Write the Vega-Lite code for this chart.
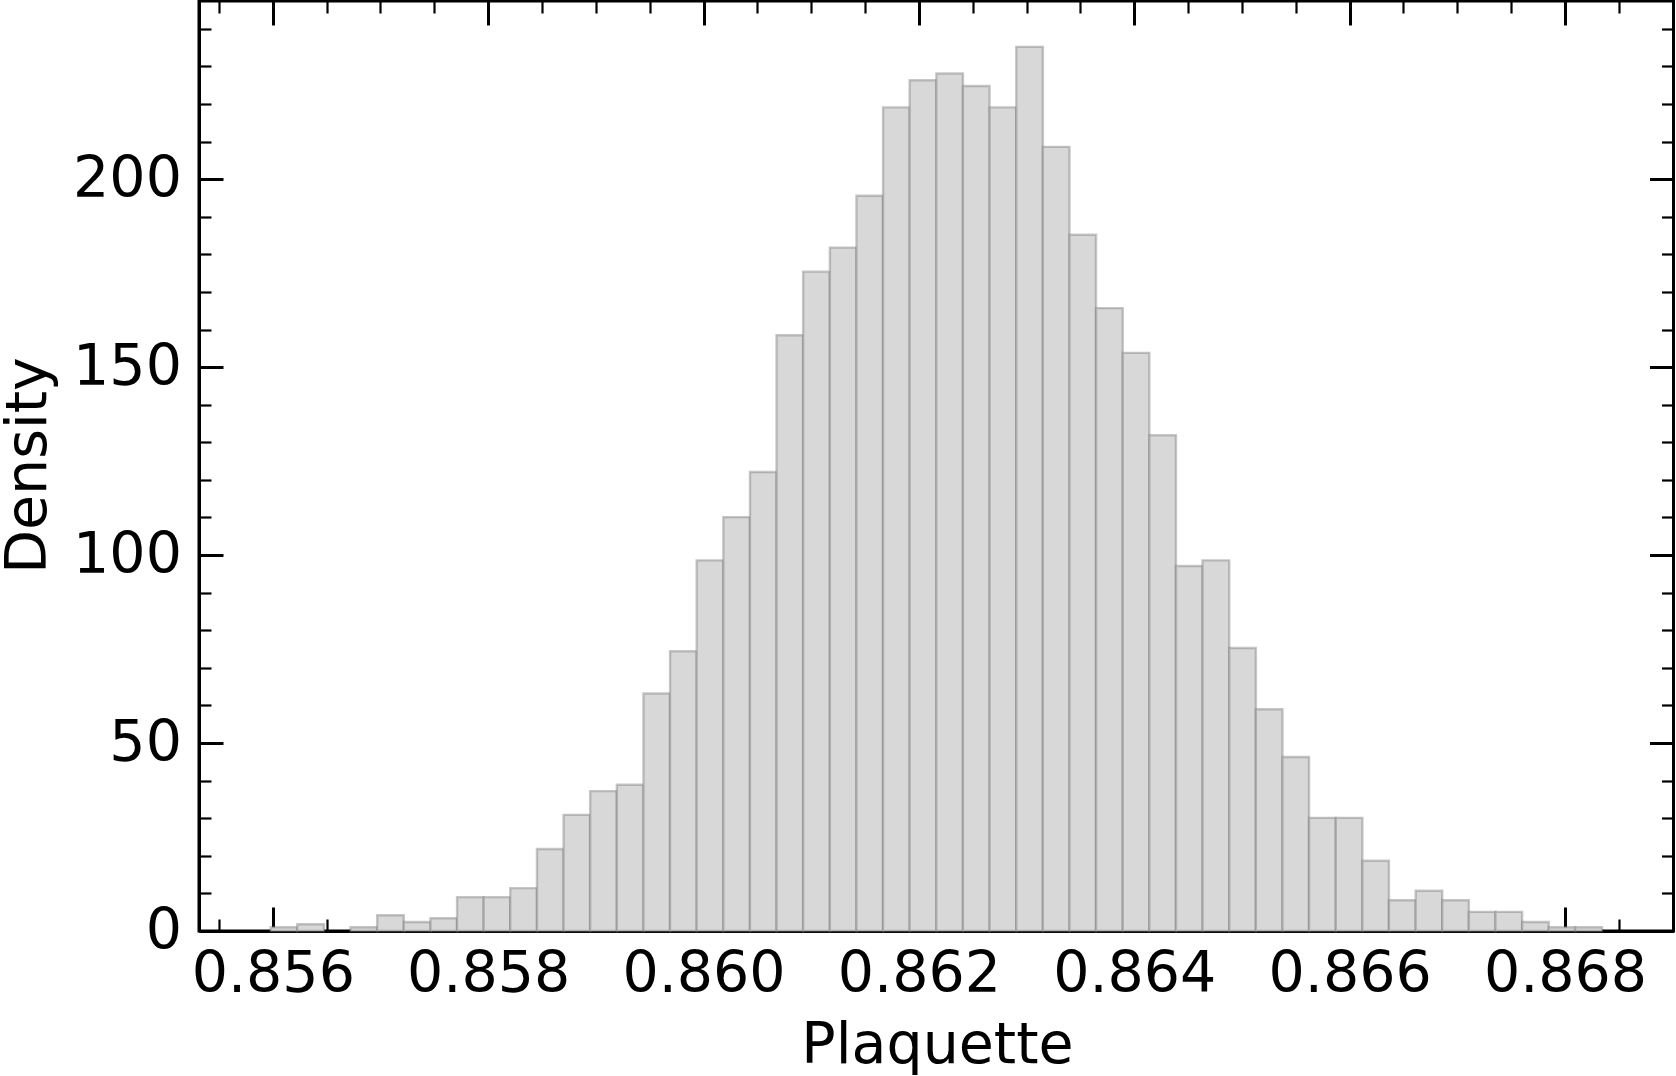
{
  "$schema": "https://vega.github.io/schema/vega-lite/v6.json",
  "width": 1474.5,
  "height": 930,
  "autosize": {"type": "none"},
  "padding": {"left": 199, "top": 1, "right": 2, "bottom": 145},
  "background": "white",
  "config": {
    "view": {"stroke": "black", "strokeWidth": 3},
    "axis": {
      "labelFont": "DejaVu Sans",
      "labelFontSize": 57,
      "labelColor": "black",
      "titleFont": "DejaVu Sans",
      "titleFontSize": 57,
      "titleFontWeight": "normal",
      "titleColor": "black",
      "domainColor": "black",
      "domainWidth": 3,
      "tickColor": "black",
      "grid": false,
      "labelFlush": false,
      "labelOverlap": false,
      "zindex": 1
    }
  },
  "data": {
    "values": [
      {"x0": 0.855980, "x1": 0.856227, "density": 1.0},
      {"x0": 0.856227, "x1": 0.856475, "density": 1.8},
      {"x0": 0.856722, "x1": 0.856969, "density": 1.0},
      {"x0": 0.856969, "x1": 0.857216, "density": 4.2},
      {"x0": 0.857216, "x1": 0.857464, "density": 2.4},
      {"x0": 0.857464, "x1": 0.857711, "density": 3.4},
      {"x0": 0.857711, "x1": 0.857958, "density": 9.0},
      {"x0": 0.857958, "x1": 0.858205, "density": 9.0},
      {"x0": 0.858205, "x1": 0.858453, "density": 11.4},
      {"x0": 0.858453, "x1": 0.858700, "density": 21.8},
      {"x0": 0.858700, "x1": 0.858947, "density": 30.9},
      {"x0": 0.858947, "x1": 0.859195, "density": 37.2},
      {"x0": 0.859195, "x1": 0.859442, "density": 38.9},
      {"x0": 0.859442, "x1": 0.859689, "density": 63.2},
      {"x0": 0.859689, "x1": 0.859936, "density": 74.4},
      {"x0": 0.859936, "x1": 0.860184, "density": 98.6},
      {"x0": 0.860184, "x1": 0.860431, "density": 110.1},
      {"x0": 0.860431, "x1": 0.860678, "density": 122.1},
      {"x0": 0.860678, "x1": 0.860925, "density": 158.5},
      {"x0": 0.860925, "x1": 0.861173, "density": 175.4},
      {"x0": 0.861173, "x1": 0.861420, "density": 181.8},
      {"x0": 0.861420, "x1": 0.861667, "density": 195.6},
      {"x0": 0.861667, "x1": 0.861914, "density": 219.1},
      {"x0": 0.861914, "x1": 0.862162, "density": 226.3},
      {"x0": 0.862162, "x1": 0.862409, "density": 228.1},
      {"x0": 0.862409, "x1": 0.862656, "density": 224.8},
      {"x0": 0.862656, "x1": 0.862904, "density": 219.1},
      {"x0": 0.862904, "x1": 0.863151, "density": 235.2},
      {"x0": 0.863151, "x1": 0.863398, "density": 208.6},
      {"x0": 0.863398, "x1": 0.863645, "density": 185.2},
      {"x0": 0.863645, "x1": 0.863893, "density": 165.7},
      {"x0": 0.863893, "x1": 0.864140, "density": 153.8},
      {"x0": 0.864140, "x1": 0.864387, "density": 131.9},
      {"x0": 0.864387, "x1": 0.864634, "density": 97.1},
      {"x0": 0.864634, "x1": 0.864882, "density": 98.6},
      {"x0": 0.864882, "x1": 0.865129, "density": 75.3},
      {"x0": 0.865129, "x1": 0.865376, "density": 59.0},
      {"x0": 0.865376, "x1": 0.865623, "density": 46.3},
      {"x0": 0.865623, "x1": 0.865871, "density": 30.1},
      {"x0": 0.865871, "x1": 0.866118, "density": 30.1},
      {"x0": 0.866118, "x1": 0.866365, "density": 18.7},
      {"x0": 0.866365, "x1": 0.866613, "density": 8.2},
      {"x0": 0.866613, "x1": 0.866860, "density": 10.7},
      {"x0": 0.866860, "x1": 0.867107, "density": 8.2},
      {"x0": 0.867107, "x1": 0.867354, "density": 5.1},
      {"x0": 0.867354, "x1": 0.867602, "density": 5.1},
      {"x0": 0.867602, "x1": 0.867849, "density": 2.4},
      {"x0": 0.867849, "x1": 0.868096, "density": 1.0},
      {"x0": 0.868096, "x1": 0.868343, "density": 1.0}
    ]
  },
  "layer": [
    {
      "mark": {"type": "bar", "orient": "vertical", "fill": "#d8d8d8", "stroke": "#7a7a7a", "strokeOpacity": 0.42, "strokeWidth": 2.4},
      "encoding": {
        "x": {
          "field": "x0", "type": "quantitative",
          "scale": {"domain": [0.855361, 0.868961], "nice": false, "zero": false},
          "axis": {
            "orient": "bottom",
            "values": [0.856, 0.858, 0.860, 0.862, 0.864, 0.866, 0.868],
            "format": ".3f",
            "tickSize": -24, "tickWidth": 3,
            "labelPadding": 84.3, "labelBaseline": "alphabetic", "labelFlush": false,
            "title": "Plaquette",
            "titleX": 738, "titleY": 131, "titleBaseline": "alphabetic", "titleAlign": "center"
          }
        },
        "x2": {"field": "x1"},
        "y": {
          "field": "density", "type": "quantitative",
          "scale": {"domain": [0, 247.4], "nice": false, "zero": true},
          "axis": {
            "orient": "left",
            "values": [0, 50, 100, 150, 200],
            "format": "d",
            "tickSize": -24, "tickWidth": 3,
            "labelPadding": 41.6, "labelFlush": false, "labelBaseline": "middle",
            "title": "Density",
            "titleX": -154, "titleY": 464, "titleAngle": -90, "titleBaseline": "alphabetic", "titleAlign": "center"
          }
        },
        "y2": {"datum": 0}
      }
    },
    {
      "mark": {"type": "bar", "orient": "vertical", "opacity": 0},
      "encoding": {
        "x": {
          "field": "x0", "type": "quantitative",
          "axis": {
            "orient": "bottom", "domain": false, "labels": false, "title": null,
            "values": [0.8555, 0.8565, 0.857, 0.8575, 0.8585, 0.859, 0.8595, 0.8605, 0.861, 0.8615, 0.8625, 0.863, 0.8635, 0.8645, 0.865, 0.8655, 0.8665, 0.867, 0.8675, 0.8685],
            "tickSize": -12, "tickWidth": 2.2
          }
        },
        "x2": {"field": "x1"},
        "y": {
          "field": "density", "type": "quantitative",
          "axis": {
            "orient": "left", "domain": false, "labels": false, "title": null,
            "values": [10, 20, 30, 40, 60, 70, 80, 90, 110, 120, 130, 140, 160, 170, 180, 190, 210, 220, 230, 240],
            "tickSize": -12, "tickWidth": 2.2
          }
        },
        "y2": {"datum": 0}
      }
    },
    {
      "mark": {"type": "bar", "orient": "vertical", "opacity": 0},
      "encoding": {
        "x": {
          "field": "x0", "type": "quantitative",
          "axis": {
            "orient": "top", "domain": false, "labels": false, "title": null,
            "values": [0.856, 0.858, 0.860, 0.862, 0.864, 0.866, 0.868],
            "tickSize": -24, "tickWidth": 3
          }
        },
        "x2": {"field": "x1"},
        "y": {
          "field": "density", "type": "quantitative",
          "axis": {
            "orient": "right", "domain": false, "labels": false, "title": null,
            "values": [0, 50, 100, 150, 200],
            "tickSize": -24, "tickWidth": 3
          }
        },
        "y2": {"datum": 0}
      }
    },
    {
      "mark": {"type": "bar", "orient": "vertical", "opacity": 0},
      "encoding": {
        "x": {
          "field": "x0", "type": "quantitative",
          "axis": {
            "orient": "top", "domain": false, "labels": false, "title": null,
            "values": [0.8555, 0.8565, 0.857, 0.8575, 0.8585, 0.859, 0.8595, 0.8605, 0.861, 0.8615, 0.8625, 0.863, 0.8635, 0.8645, 0.865, 0.8655, 0.8665, 0.867, 0.8675, 0.8685],
            "tickSize": -12, "tickWidth": 2.2
          }
        },
        "x2": {"field": "x1"},
        "y": {
          "field": "density", "type": "quantitative",
          "axis": {
            "orient": "right", "domain": false, "labels": false, "title": null,
            "values": [10, 20, 30, 40, 60, 70, 80, 90, 110, 120, 130, 140, 160, 170, 180, 190, 210, 220, 230, 240],
            "tickSize": -12, "tickWidth": 2.2
          }
        },
        "y2": {"datum": 0}
      }
    }
  ],
  "resolve": {"axis": {"x": "independent", "y": "independent"}}
}
